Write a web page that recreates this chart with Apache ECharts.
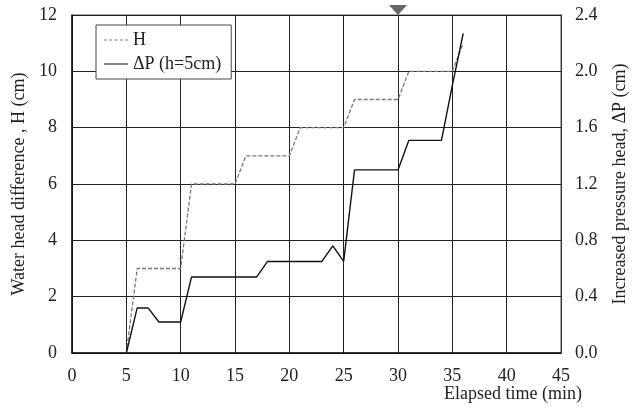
<!DOCTYPE html>
<html>
<head>
<meta charset="utf-8">
<script src="https://cdn.jsdelivr.net/npm/echarts@6/dist/echarts.min.js"></script>
<style>
  html, body { margin: 0; padding: 0; background: #fff; }
  #chart { width: 637px; height: 407px; }
</style>
</head>
<body>
<div id="chart"></div>
<script>
// elapsed time (min) and water head difference H (cm)
const hTime = [5, 6, 10, 11, 15, 16, 20, 21, 25, 26, 30, 31, 35, 36];
const hValues = [0, 3, 3, 6, 6, 7, 7, 8, 8, 9, 9, 10, 10, 11];

// elapsed time (min) and increased pressure head dP (cm), h = 5cm
const pTime = [5, 6, 7, 8, 10, 11, 17, 18, 23, 24, 25, 26, 30, 31, 34, 35, 36];
const pValues = [0, 0.32, 0.32, 0.22, 0.22, 0.54, 0.54, 0.65, 0.65, 0.76, 0.65, 1.3, 1.3, 1.51, 1.51, 1.9, 2.27];

// down-arrow marker above the chart
const markTime = 30;

const font = 'Liberation Serif, Times New Roman, serif';
const ink = '#222';

// legend icons: dashed and solid short lines
const dashIcon = 'path://M0,5.5H3V6.5H0Z M5,5.5H8V6.5H5Z M10,5.5H13V6.5H10Z M15,5.5H18V6.5H15Z M20,5.5H23V6.5H20Z';
const solidIcon = 'path://M0,5.5H23V6.5H0Z';

let chart = echarts.init(document.getElementById('chart'));
chart.setOption({
    animation: false,
    textStyle: { fontFamily: font, color: ink },
    grid: { left: 72, right: 74, top: 15, bottom: 54, show: true, borderColor: '#555', borderWidth: 1 },
    legend: {
        left: 96, top: 25,
        orient: 'vertical',
        backgroundColor: '#fff',
        borderColor: '#444',
        borderWidth: 1,
        padding: [6, 10, 6, 8],
        itemGap: 6,
        itemWidth: 24,
        itemHeight: 12,
        textStyle: { fontFamily: font, fontSize: 18, color: ink },
        data: [
            { name: 'H', icon: dashIcon, itemStyle: { color: '#777' } },
            { name: 'ΔP (h=5cm)', icon: solidIcon, itemStyle: { color: '#111' } }
        ]
    },
    xAxis: {
        type: 'value',
        min: 0, max: 45, interval: 5,
        name: 'Elapsed time (min)',
        nameLocation: 'end',
        nameGap: 21,
        nameTextStyle: { fontFamily: font, fontSize: 18, color: ink, align: 'right', verticalAlign: 'top', padding: [32, 0, 0, 0] },
        axisLine: { lineStyle: { color: '#111', width: 1.5 } },
        axisTick: { show: false },
        axisLabel: { fontFamily: font, fontSize: 18, color: ink, margin: 14 },
        splitLine: { show: true, lineStyle: { color: '#222', width: 1 } }
    },
    yAxis: [{
        type: 'value',
        min: 0, max: 12, interval: 2,
        name: 'Water head difference , H (cm)',
        nameLocation: 'middle',
        nameGap: 41,
        nameTextStyle: { fontFamily: font, fontSize: 18, color: ink },
        axisLine: { show: true, lineStyle: { color: '#111', width: 1.5 } },
        axisTick: { show: false },
        axisLabel: { fontFamily: font, fontSize: 18, color: ink, margin: 15 },
        splitLine: { show: true, lineStyle: { color: '#222', width: 1 } }
    }, {
        type: 'value',
        position: 'right',
        min: 0, max: 2.4, interval: 0.4,
        name: 'Increased pressure head, ΔP (cm)',
        nameLocation: 'middle',
        nameGap: 50,
        nameRotate: 90,
        nameTextStyle: { fontFamily: font, fontSize: 18, color: ink },
        axisLine: { show: true, lineStyle: { color: '#333', width: 1 } },
        axisTick: { show: false },
        axisLabel: { fontFamily: font, fontSize: 18, color: ink, margin: 14, formatter: v => v.toFixed(1) },
        splitLine: { show: false }
    }],
    series: [{
        name: 'H',
        type: 'line',
        yAxisIndex: 0,
        symbol: 'none',
        data: hTime.map((t, i) => [t, hValues[i]]),
        lineStyle: { color: '#777', width: 1.3, type: [4, 2] },
        itemStyle: { color: '#777' },
        markPoint: {
            silent: true,
            symbol: 'triangle',
            symbolRotate: 180,
            symbolSize: [18, 10],
            symbolOffset: [0, -5],
            itemStyle: { color: '#666' },
            label: { show: false },
            data: [{ coord: [markTime, 12] }]
        }
    }, {
        name: 'ΔP (h=5cm)',
        type: 'line',
        yAxisIndex: 1,
        symbol: 'none',
        data: pTime.map((t, i) => [t, pValues[i]]),
        lineStyle: { color: '#111', width: 1.4 },
        itemStyle: { color: '#111' }
    }]
});
</script>
</body>
</html>
